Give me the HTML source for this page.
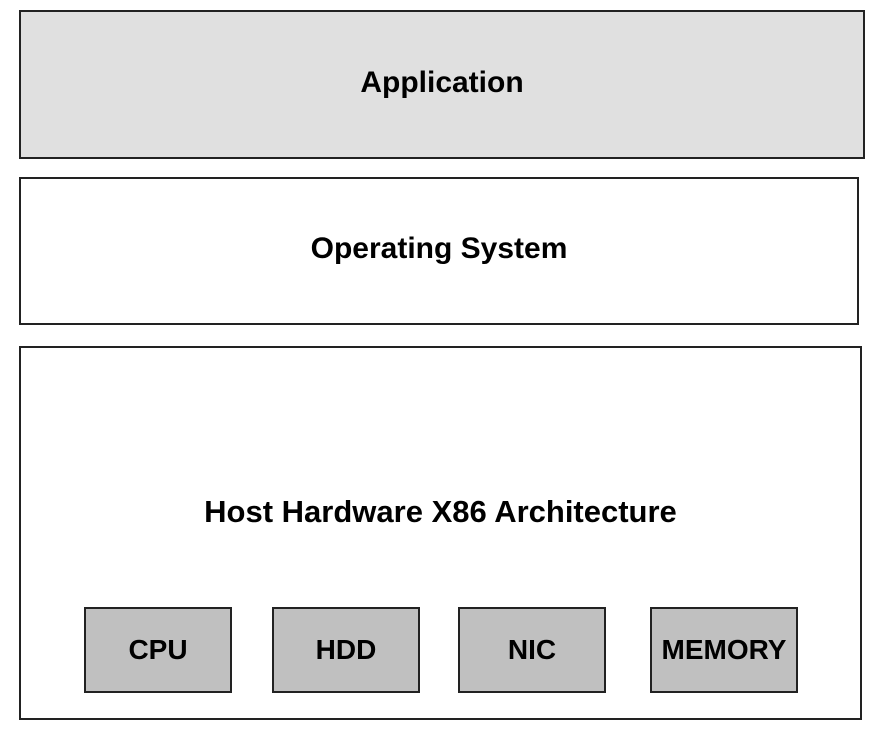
<!DOCTYPE html>
<html><head><style>
body{margin:0;width:876px;height:732px;background:#fff;position:relative;overflow:hidden;font-family:"Liberation Sans",Arial,sans-serif;font-weight:bold;color:#000}
.b{position:absolute;box-sizing:border-box;border:2px solid #222;display:flex;align-items:center;justify-content:center}
.t{position:absolute;left:0;right:0;text-align:center;white-space:nowrap}
</style></head><body>
<div class="b" style="left:19px;top:10px;width:846px;height:149px;background:#e0e0e0;font-size:30px"><span style="margin-top:-4px">Application</span></div>
<div class="b" style="left:19px;top:177px;width:840px;height:148px;background:#fff;font-size:30px"><span style="margin-top:-4px">Operating System</span></div>
<div class="b" style="left:19px;top:346px;width:843px;height:374px;background:#fff">
<div class="t" style="top:146px;font-size:31px">Host Hardware X86 Architecture</div>
</div>
<div class="b" style="left:84px;top:607px;width:148px;height:86px;background:#c0c0c0;font-size:28px">CPU</div>
<div class="b" style="left:272px;top:607px;width:148px;height:86px;background:#c0c0c0;font-size:28px">HDD</div>
<div class="b" style="left:458px;top:607px;width:148px;height:86px;background:#c0c0c0;font-size:28px">NIC</div>
<div class="b" style="left:650px;top:607px;width:148px;height:86px;background:#c0c0c0;font-size:28px">MEMORY</div>
</body></html>
